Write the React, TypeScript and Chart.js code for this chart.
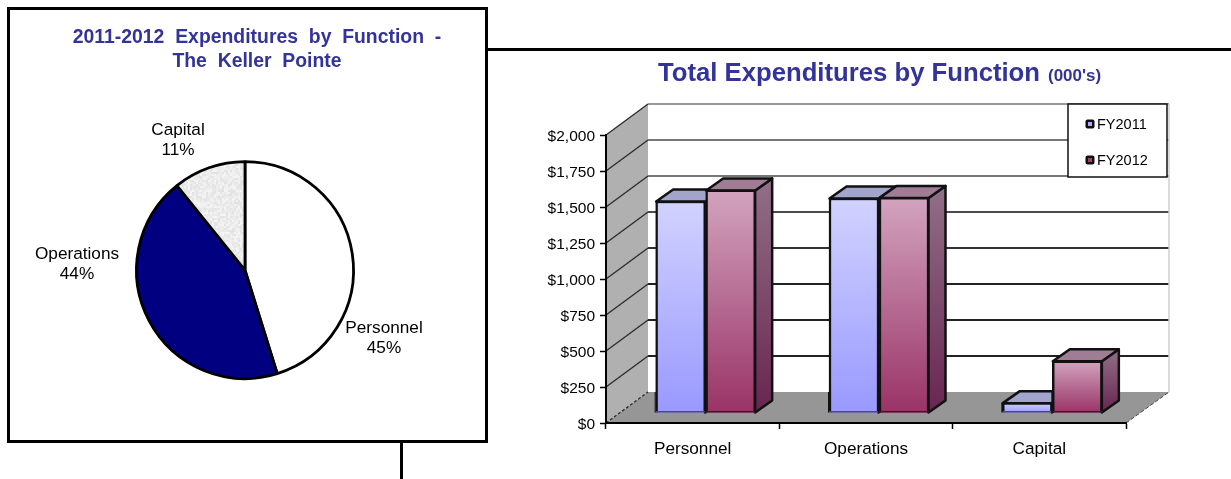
import React, { useEffect, useRef } from "react";
import { Chart, registerables } from "chart.js";

Chart.register(...registerables);

const FONT = '"Liberation Sans", Arial, sans-serif';

// ---- data ----
const pieLabels = ["Personnel", "Operations", "Capital"];
const pieValues = [45.2, 44.0, 10.8];
const piePercentLabels = ["45%", "44%", "11%"];
const pieTitleLines = ["2011-2012  Expenditures  by  Function  -", "The  Keller  Pointe"];

const barCategories = ["Personnel", "Operations", "Capital"];
const fy2011Values = [1472, 1493, 72];
const fy2012Values = [1549, 1497, 363];
const seriesNames = ["FY2011", "FY2012"];
const barTitle = "Total Expenditures by Function";
const barTitleUnit = "(000's)";

// ---- styling constants ----
const TITLE_COLOR = "#333399";
const DEPTH_WALL = { dx: 42, dy: -31 };
const DEPTH_BAR = { dx: 17, dy: -12 };
const BAR_SHIFT = { dx: 13, dy: -10 };
const seriesStyles = [
  { top: "#D2D2FF", bottom: "#9999FF", lid: "#A3A4CC", sideTop: "#9A9AC8", sideBottom: "#6464A0", swatch: "#AAAAFF", foot: "#4A4A80" },
  { top: "#D2A4BF", bottom: "#993366", lid: "#A17C95", sideTop: "#917088", sideBottom: "#692550", swatch: "#A04070", foot: "#4A1030" },
];
const gridShades = ["#555", "#222", "#222", "#222", "#333", "#4a4a4a", "#777", "#777", "#999"];
const pieLabelOffsets = [
  [139, 68],
  [-168, -6],
  [-67, -130],
];

function makeStipple(ctx: CanvasRenderingContext2D) {
  const size = 96;
  const c = document.createElement("canvas");
  c.width = c.height = size;
  const g = c.getContext("2d")!;
  const img = g.createImageData(size, size);
  for (let y = 0; y < size; y++) {
    for (let x = 0; x < size; x++) {
      const cx = x >> 1;
      const cy = y >> 1;
      const h = ((cx * 73856093) ^ (cy * 19349663) ^ ((cx + cy) * 83492791)) >>> 0;
      const v = 226 + ((h >>> 7) % 20);
      const i = (y * size + x) * 4;
      img.data[i] = img.data[i + 1] = img.data[i + 2] = v;
      img.data[i + 3] = 255;
    }
  }
  g.putImageData(img, 0, 0);
  return ctx.createPattern(c, "repeat")!;
}

const pieLabelPlugin = {
  id: "pieLabelPlugin",
  afterLayout(chart: any) {
    // the heading sits right of the pie's centre in the reference
    if (chart.titleBlock) chart.titleBlock.left += 24;
  },
  afterDatasetsDraw(chart: any) {
    const { ctx } = chart;
    const arcs = chart.getDatasetMeta(0).data;
    ctx.save();
    ctx.fillStyle = "#000";
    ctx.font = `17.2px ${FONT}`;
    ctx.textAlign = "center";
    ctx.textBaseline = "middle";
    arcs.forEach((arc: any, i: number) => {
      const x = arc.x + pieLabelOffsets[i][0];
      const y = arc.y + pieLabelOffsets[i][1];
      ctx.fillText(pieLabels[i], x, y - 10);
      ctx.fillText(piePercentLabels[i], x, y + 10);
    });
    ctx.restore();
  },
};

function poly(ctx: CanvasRenderingContext2D, pts: number[][]) {
  ctx.beginPath();
  pts.forEach((p, i) => (i ? ctx.lineTo(p[0], p[1]) : ctx.moveTo(p[0], p[1])));
  ctx.closePath();
}

const scene3dPlugin = {
  id: "scene3dPlugin",
  beforeDraw(chart: any) {
    const { ctx, chartArea: a, scales } = chart;
    const { dx, dy } = DEPTH_WALL;
    const y0 = scales.y.getPixelForValue(0);
    const yMax = scales.y.getPixelForValue(2000);
    const backRight = a.right + dx + 1;
    ctx.save();
    // left wall
    poly(ctx, [[a.left, yMax], [a.left + dx, yMax + dy], [a.left + dx, y0 + dy], [a.left, y0]]);
    ctx.fillStyle = "#B0B0B0";
    ctx.fill();
    // floor
    poly(ctx, [[a.left, y0], [a.left + dx, y0 + dy], [backRight, y0 + dy], [a.right, y0]]);
    ctx.fillStyle = "#969696";
    ctx.fill();
    // grid lines on the back and left wall
    scales.y.ticks.forEach((t: any, i: number) => {
      const y = scales.y.getPixelForValue(t.value);
      if (t.value > 0) {
        ctx.strokeStyle = gridShades[i];
        ctx.lineWidth = 2;
        ctx.beginPath();
        ctx.moveTo(a.left + dx, y + dy);
        ctx.lineTo(backRight, y + dy);
        ctx.stroke();
      }
      ctx.strokeStyle = "#2a2a2a";
      ctx.lineWidth = 1.3;
      ctx.setLineDash(t.value > 0 ? [] : [3, 2]);
      ctx.beginPath();
      ctx.moveTo(a.left, y);
      ctx.lineTo(a.left + dx, y + dy);
      ctx.stroke();
      ctx.setLineDash([]);
    });
    // right edge of the back wall and floor
    ctx.strokeStyle = "#CFCFCF";
    ctx.lineWidth = 1.5;
    ctx.beginPath();
    ctx.moveTo(backRight, yMax + dy);
    ctx.lineTo(backRight, y0 + dy);
    ctx.stroke();
    ctx.strokeStyle = "#444";
    ctx.lineWidth = 1;
    ctx.setLineDash([4, 2]);
    ctx.beginPath();
    ctx.moveTo(a.right, y0);
    ctx.lineTo(backRight, y0 + dy);
    ctx.stroke();
    ctx.restore();
  },
  beforeDatasetsDraw(chart: any) {
    const { ctx } = chart;
    ctx.save();
    ctx.translate(BAR_SHIFT.dx, BAR_SHIFT.dy);
    const { dx, dy } = DEPTH_BAR;
    chart.data.datasets.forEach((_: any, d: number) => {
      const style = seriesStyles[d];
      chart.getDatasetMeta(d).data.forEach((bar: any) => {
        const l = bar.x - bar.width / 2 + 0.5;
        const r = bar.x + bar.width / 2 - 0.5;
        const t = bar.y + 0.5;
        const b = bar.base;
        ctx.lineJoin = "round";
        ctx.strokeStyle = "#111";
        ctx.lineWidth = 2.5;
        const g = ctx.createLinearGradient(0, t + dy, 0, b);
        g.addColorStop(0, style.sideTop);
        g.addColorStop(1, style.sideBottom);
        poly(ctx, [[r, t], [r + dx, t + dy], [r + dx, b + dy], [r, b]]);
        ctx.fillStyle = g;
        ctx.fill();
        ctx.stroke();
        poly(ctx, [[l, t], [l + dx, t + dy], [r + dx, t + dy], [r, t]]);
        ctx.fillStyle = style.lid;
        ctx.fill();
        ctx.stroke();
      });
    });
  },
  afterDatasetsDraw(chart: any) {
    const { ctx, scales } = chart;
    const floorBack = scales.y.getPixelForValue(0) + DEPTH_WALL.dy - BAR_SHIFT.dy;
    chart.data.datasets.forEach((_: any, d: number) => {
      chart.getDatasetMeta(d).data.forEach((bar: any) => {
        const l = bar.x - bar.width / 2;
        ctx.fillStyle = seriesStyles[d].foot;
        ctx.fillRect(l, bar.base - 1.5, bar.width, 1.5);
        // the heavier lower edge where a tall bar stands on the floor
        const from = Math.max(floorBack, bar.y);
        ctx.fillStyle = "#111";
        ctx.fillRect(l - 1, from, 1, bar.base - from);
      });
    });
    ctx.restore();
  },
  afterDraw(chart: any) {
    const { ctx, chartArea: a, scales } = chart;
    const yMax = scales.y.getPixelForValue(2000) + DEPTH_WALL.dy;
    ctx.save();
    // heading
    ctx.fillStyle = TITLE_COLOR;
    ctx.textBaseline = "alphabetic";
    ctx.textAlign = "left";
    ctx.font = `bold 25.7px ${FONT}`;
    const titleLeft = a.left + 52;
    const baseline = 29;
    ctx.fillText(barTitle, titleLeft, baseline);
    const w = ctx.measureText(barTitle).width;
    ctx.font = `bold 17px ${FONT}`;
    ctx.fillText(barTitleUnit, titleLeft + w + 8, baseline);
    // legend
    const left = a.right - 58;
    const top = yMax;
    const width = 99;
    const height = 73;
    ctx.fillStyle = "#fff";
    ctx.fillRect(left, top, width, height);
    ctx.strokeStyle = "#111";
    ctx.lineWidth = 1.5;
    ctx.strokeRect(left, top, width, height);
    seriesNames.forEach((name, i) => {
      const cy = top + 20 + i * 36;
      ctx.fillStyle = "#111";
      ctx.beginPath();
      ctx.roundRect(left + 17.5, cy - 4.5, 9, 9, 2);
      ctx.fill();
      ctx.fillStyle = seriesStyles[i].swatch;
      ctx.fillRect(left + 20, cy - 2, 4, 4);
      ctx.fillStyle = "#000";
      ctx.font = `14.5px ${FONT}`;
      ctx.textBaseline = "middle";
      ctx.fillText(name, left + 29, cy + 0.5);
    });
    ctx.restore();
  },
};

export default function App() {
  const pieRef = useRef<HTMLCanvasElement>(null);
  const barRef = useRef<HTMLCanvasElement>(null);

  useEffect(() => {
    const pieCtx = pieRef.current!.getContext("2d")!;
    const pie = new Chart(pieCtx, {
      type: "pie",
      plugins: [pieLabelPlugin],
      data: {
        labels: pieLabels,
        datasets: [
          {
            data: pieValues,
            backgroundColor: ["#FFFFFF", "#000080", makeStipple(pieCtx)],
            borderColor: "#000",
            borderWidth: 2.8,
            radius: 108.5,
          },
        ],
      },
      options: {
        responsive: false,
        animation: false,
        layout: { padding: { bottom: 13 } },
        plugins: {
          legend: { display: false },
          tooltip: { enabled: false },
          title: {
            display: true,
            text: pieTitleLines,
            color: TITLE_COLOR,
            font: { family: FONT, size: 19.4, weight: "bold", lineHeight: 1.24 },
            padding: { top: 26, bottom: 0 },
          },
        },
      } as any,
    });

    const colourFor = (d: number) => (c: any) => {
      const style = seriesStyles[d];
      if (typeof c.raw !== "number") return style.bottom;
      const y = c.chart.scales.y;
      const yTop = y.getPixelForValue(c.raw);
      const yBase = y.getPixelForValue(0);
      if (!Number.isFinite(yTop) || !Number.isFinite(yBase)) return style.bottom;
      const g = c.chart.ctx.createLinearGradient(0, yTop, 0, yBase);
      g.addColorStop(0, style.top);
      g.addColorStop(1, style.bottom);
      return g;
    };

    const bar = new Chart(barRef.current!, {
      type: "bar",
      plugins: [scene3dPlugin],
      data: {
        labels: barCategories,
        datasets: [fy2011Values, fy2012Values].map((values, d) => ({
          label: seriesNames[d],
          data: values,
          backgroundColor: colourFor(d),
          borderColor: "#111",
          borderWidth: { left: 2.5, right: 2.5, top: 2.5, bottom: 0 },
          borderSkipped: false,
          barThickness: 50,
          clip: false,
        })),
      },
      options: {
        responsive: false,
        animation: false,
        layout: { padding: { top: 83, right: 105, left: 0, bottom: 0 } },
        plugins: { legend: { display: false }, tooltip: { enabled: false }, title: { display: false } },
        scales: {
          x: {
            afterFit: (s: any) => {
              s.height = 56;
            },
            border: { color: "#000", width: 2 },
            grid: { drawOnChartArea: false, color: "#000", tickLength: 6, tickWidth: 1.5 },
            ticks: { color: "#000", font: { family: FONT, size: 17.2 }, padding: 10, maxRotation: 0 },
          },
          y: {
            min: 0,
            max: 2000,
            afterFit: (s: any) => {
              s.width = 116;
            },
            border: { color: "#000", width: 2 },
            grid: { drawOnChartArea: false, color: "#000", tickLength: 6, tickWidth: 1.5 },
            ticks: {
              stepSize: 250,
              color: "#000",
              padding: 5,
              labelOffset: 2,
              font: { family: FONT, size: 15.5 },
              callback: (v: any) => "$" + Number(v).toLocaleString("en-US"),
            },
          },
        },
      } as any,
    });

    return () => {
      pie.destroy();
      bar.destroy();
    };
  }, []);

  const black = { position: "absolute", background: "#000" } as const;
  return (
    <div style={{ position: "fixed", left: 0, top: 0, width: 1231, height: 479, overflow: "hidden", background: "#fff" }}>
      <div style={{ ...black, left: 488, top: 48, width: 743, height: 3 }} />
      <div style={{ ...black, left: 400, top: 440, width: 3, height: 39 }} />
      <div
        style={{
          position: "absolute",
          left: 7,
          top: 7,
          width: 475,
          height: 430,
          border: "3px solid #000",
          background: "#fff",
        }}
      />
      <canvas ref={pieRef} width={490} height={479} style={{ position: "absolute", left: 0, top: 0, display: "block" }} />
      <canvas ref={barRef} width={741} height={427} style={{ position: "absolute", left: 490, top: 52, display: "block" }} />
    </div>
  );
}
